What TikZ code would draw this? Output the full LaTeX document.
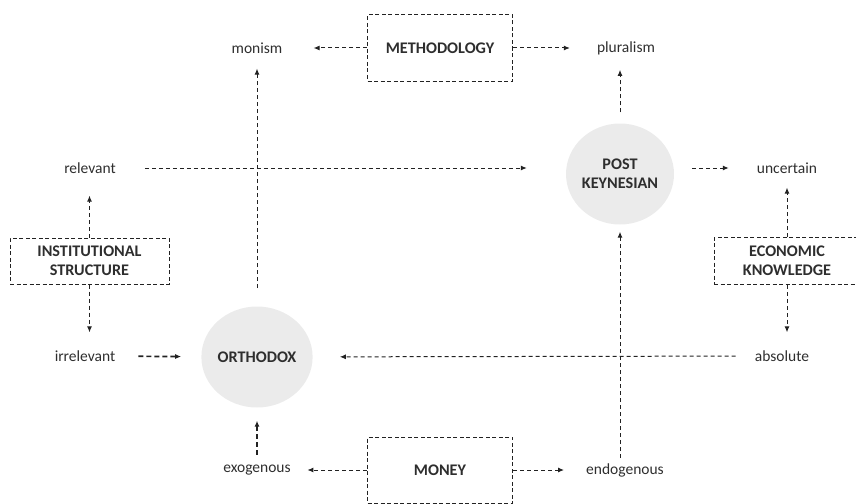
\documentclass[tikz,border=0pt]{standalone}
\usepackage{fontspec}
\setmainfont{Carlito}
\usetikzlibrary{arrows.meta,shapes.geometric}
\definecolor{ink}{HTML}{2E2E2E}
\definecolor{wire}{HTML}{222222}
\definecolor{disc}{HTML}{EBEBEB}
\tikzset{
  every node/.style={font=\fontsize{15.5}{19}\selectfont,text=ink},
  arr/.style={-{Latex[length=6pt,width=5pt]},line width=1pt,draw=wire,dash pattern=on 4pt off 3pt},
  arrbold/.style={arr,line width=1.7pt,dash pattern=on 5pt off 3pt},
  dbox/.style={draw=wire,line width=1pt,dash pattern=on 4pt off 2.5pt,align=center,inner sep=0,font=\bfseries\fontsize{16.2}{19}\selectfont},
  school/.style={ellipse,fill=disc,minimum width=108pt,minimum height=101pt,inner sep=0,align=center,font=\bfseries\fontsize{16.2}{19}\selectfont},
  lbl/.style={inner sep=0}
}
\begin{document}
\begin{tikzpicture}[x=1pt,y=-1pt]
  \path[use as bounding box] (0,0) rectangle (856,503);

  % dimension boxes
  \node[dbox,minimum width=145pt,minimum height=66pt] (meth) at (440,48) {METHODOLOGY};
  \node[dbox,minimum width=159pt,minimum height=46pt] (inst) at (89.5,261) {INSTITUTIONAL\\STRUCTURE};
  \node[dbox,minimum width=146pt,minimum height=47pt] (econ) at (787,261) {ECONOMIC\\KNOWLEDGE};
  \node[dbox,minimum width=145pt,minimum height=66pt] (money) at (440,470) {MONEY};

  % schools
  \node[school] (ortho) at (257,357) {ORTHODOX};
  \node[school] (post) at (620,174) {POST\\KEYNESIAN};

  % positions
  \node[lbl] (monism) at (257,48) {monism};
  \node[lbl] (plural) at (626,48) {pluralism};
  \node[lbl] (relevant) at (90,168) {relevant};
  \node[lbl] (uncertain) at (787,168) {uncertain};
  \node[lbl] (irrelevant) at (85,356) {irrelevant};
  \node[lbl] (absolute) at (782,356) {absolute};
  \node[lbl] (exo) at (257,470) {exogenous};
  \node[lbl] (endo) at (625,470) {endogenous};
  \coordinate (orthotop) at (257,288);

  \draw[arr,shorten >=31pt] (meth) -- (monism);
  \draw[arr,shorten >=27pt] (meth) -- (plural);
  \draw[arr,shorten >=22pt] (inst.north) -- (inst.north |- relevant.south);
  \draw[arr,shorten >=18pt] (inst.south) -- (inst.south |- irrelevant.north);
  \draw[arr,shorten >=14pt] (econ.north) -- (econ.north |- uncertain.south);
  \draw[arr,shorten >=18pt] (econ.south) -- (econ.south |- absolute.north);
  \draw[arr,shorten >=16.5pt] (money) -- (exo);
  \draw[arr,shorten >=22pt] (money) -- (endo);

  \draw[arr,shorten >=15pt] (orthotop) -- (orthotop |- monism.south);
  \draw[arr,shorten <=11pt,shorten >=15pt] (post.north) -- (post.north |- plural.south);
  \draw[arr,shorten <=29pt,shorten >=39pt] (relevant.east) -- (relevant.east -| post.west);
  \draw[arr,shorten <=18pt,shorten >=28pt] (uncertain.west -| post.east) -- (uncertain.west);
  \draw[arr,shorten <=19pt,shorten >=27pt] (absolute) -- (ortho);
  \draw[arr,shorten <=5pt,shorten >=7pt] (post.south |- endo.north) -- (post.south);
  \draw[arrbold,shorten <=23pt,shorten >=20pt] (irrelevant) -- (ortho);
  \draw[arrbold,shorten <=10pt,shorten >=13pt] (exo) -- (ortho);
\end{tikzpicture}
\end{document}
